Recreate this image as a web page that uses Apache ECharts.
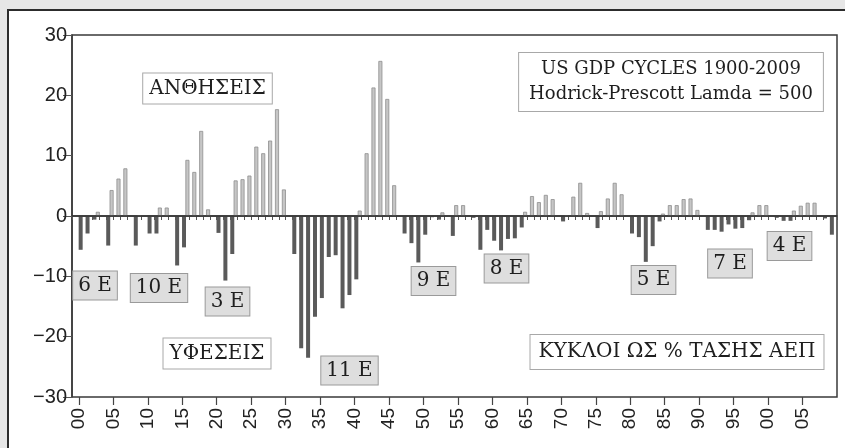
<!DOCTYPE html>
<html><head><meta charset="utf-8">
<script src="https://cdn.jsdelivr.net/npm/echarts@6/dist/echarts.min.js"></script>
<style>html,body{margin:0;padding:0;background:#e6e6e6}#c{width:845px;height:448px}</style>
</head><body><div id="c"></div>
<script>
// US GDP cycles, % deviation from HP trend (lambda = 500), 1900-2009
const gdp1900s = [-5.6, -2.9, -0.6, 0.7, -4.9, 4.3, 6.2, 7.9, -4.9, 0.1];
const gdp1910s = [-2.9, -2.9, 1.4, 1.4, -8.2, -5.2, 9.3, 7.3, 14.1, 1.1];
const gdp1920s = [-2.8, -10.7, -6.3, 5.9, 6.1, 6.7, 11.5, 10.4, 12.5, 17.7];
const gdp1930s = [4.4, -6.3, -21.9, -23.5, -16.7, -13.6, -6.8, -6.5, -15.3, -13.1];
const gdp1940s = [-10.5, 0.9, 10.4, 21.3, 25.7, 19.4, 5.1, -2.9, -4.5, -7.7];
const gdp1950s = [-3.1, -0.2, -0.6, 0.6, -3.3, 1.8, 1.8, -0.3, -5.6, -2.3];
const gdp1960s = [-4.1, -5.7, -3.8, -3.7, -1.9, 0.7, 3.3, 2.3, 3.5, 2.8];
const gdp1970s = [-0.9, 0.1, 3.2, 5.5, 0.5, -2.0, 0.8, 2.9, 5.5, 3.6];
const gdp1980s = [-2.9, -3.5, -7.6, -5.0, -0.9, 0.4, 1.8, 1.8, 2.8, 2.9];
const gdp1990s = [1.0, -2.3, -2.3, -2.6, -1.4, -2.1, -2.0, -0.7, 0.6, 1.8];
const gdp2000s = [1.8, -0.3, -0.8, -0.8, 0.9, 1.7, 2.2, 2.2, -0.4, -3.1];

const firstYear = 1900;
const axisStartYear = 1899;
const axisEndYear = 2010;
const xTickYears  = [1900,1905,1910,1915,1920,1925,1930,1935,1940,1945,1950,1955,1960,1965,1970,1975,1980,1985,1990,1995,2000,2005];
const xTickLabels = ['00','05','10','15','20','25','30','35','40','45','50','55','60','65','70','75','80','85','90','95','00','05'];
const yMin = -30, yMax = 30, yStep = 10;

const values = [].concat(gdp1900s, gdp1910s, gdp1920s, gdp1930s, gdp1940s,
  gdp1950s, gdp1960s, gdp1970s, gdp1980s, gdp1990s, gdp2000s);

const categories = [];
for (let y = axisStartYear; y <= axisEndYear; y++) categories.push(String(y));
const valueAt = c => { const i = Number(c) - firstYear; return (i >= 0 && i < values.length) ? values[i] : null; };
const posData = categories.map(c => { const v = valueAt(c); return (v !== null && v > 0) ? v : null; });
const negData = categories.map(c => { const v = valueAt(c); return (v !== null && v <= 0) ? v : null; });
const isMajor = (idx, val) => xTickYears.indexOf(Number(val)) >= 0;

const serif = 'DejaVu Serif';
function box(text, cx, cy, opts) {
  opts = opts || {};
  return {
    type: 'text', x: cx, y: cy, z: 50,
    style: {
      text: text, align: 'center', verticalAlign: 'middle',
      font: (opts.size || 20) + 'px "' + serif + '"',
      fill: '#1e1e1e',
      backgroundColor: opts.fill || '#ffffff',
      borderColor: opts.border || '#a8a8a8', borderWidth: 1,
      padding: opts.pad || [3, 6, 3, 6],
      lineHeight: opts.lh || 24
    }
  };
}
const grayFill = '#dedede', grayBorder = '#9a9a9a';

const chart = echarts.init(document.getElementById('c'), null, {renderer: 'canvas'});
chart.setOption({
  backgroundColor: 'transparent',
  animation: false,
  grid: { left: 72, right: 8, top: 35, bottom: 51, show: true, borderColor: '#3a3a3a', borderWidth: 1.5, backgroundColor: 'transparent', containLabel: false },
  xAxis: [{
    type: 'category', data: categories, boundaryGap: false,
    axisLine: { show: true, lineStyle: { color: '#3a3a3a', width: 1.5 } },
    axisTick: { show: true, interval: 0, length: 4, lineStyle: { color: '#555', width: 1 } },
    axisLabel: { show: false }, splitLine: { show: false }
  }, {
    type: 'category', data: categories, boundaryGap: false, position: 'bottom',
    axisLine: { show: false },
    axisTick: { show: true, interval: isMajor, length: 8, lineStyle: { color: '#444', width: 1.2 } },
    axisLabel: {
      show: true, interval: isMajor, rotate: 90, margin: 11,
      fontFamily: 'Liberation Sans', fontSize: 19, color: '#222',
      formatter: v => { const k = xTickYears.indexOf(Number(v)); return k >= 0 ? xTickLabels[k] : ''; }
    },
    splitLine: { show: false }
  }],
  yAxis: {
    type: 'value', min: yMin, max: yMax, interval: yStep,
    axisLine: { show: true, lineStyle: { color: '#3a3a3a', width: 1.5 } },
    axisTick: { show: true, length: 9, lineStyle: { color: '#555', width: 1 } },
    axisLabel: { margin: 5, fontFamily: 'Liberation Sans', fontSize: 20, color: '#222',
      formatter: v => v < 0 ? '\u2212' + (-v) : String(v) },
    splitLine: { show: false }
  },
  series: [{
    name: 'Ανθήσεις', type: 'bar', xAxisIndex: 0, data: posData,
    barWidth: 4, barGap: '-12%',
    itemStyle: { color: '#c6c6c6', borderColor: '#8e8e8e', borderWidth: 0.8 }
  }, {
    name: 'Υφέσεις', type: 'bar', xAxisIndex: 0, data: negData,
    barWidth: 4, barGap: '-12%',
    itemStyle: { color: '#5a5a5a' },
    markLine: { silent: true, symbol: 'none', label: { show: false },
      lineStyle: { color: '#333', width: 1.5, type: 'solid' }, data: [{ yAxis: 0 }] }
  }],
  graphic: [
    { type: 'rect', z: -10, shape: { x: 8, y: 10, width: 860, height: 460 },
      style: { fill: '#ffffff', stroke: '#2c2c2c', lineWidth: 2 } },
    box('ΑΝΘΗΣΕΙΣ', 207.5, 88.5),
    box('ΥΦΕΣΕΙΣ', 217, 353.5),
    box('US GDP CYCLES 1900-2009\nHodrick-Prescott Lamda = 500', 671, 82, { size: 18, lh: 25, pad: [4, 10, 4, 10] }),
    box('ΚΥΚΛΟΙ ΩΣ % ΤΑΣΗΣ ΑΕΠ', 677, 352, { pad: [5, 8, 5, 8] }),
    box('6 E', 95, 285.5, { fill: grayFill, border: grayBorder, pad: [2, 5, 2, 5] }),
    box('10 E', 159, 288, { fill: grayFill, border: grayBorder, pad: [2, 5, 2, 5] }),
    box('3 E', 227.5, 301.5, { fill: grayFill, border: grayBorder, pad: [2, 5, 2, 5] }),
    box('11 E', 349.5, 370.5, { fill: grayFill, border: grayBorder, pad: [2, 5, 2, 5] }),
    box('9 E', 433.5, 281, { fill: grayFill, border: grayBorder, pad: [2, 5, 2, 5] }),
    box('8 E', 506.5, 268.5, { fill: grayFill, border: grayBorder, pad: [2, 5, 2, 5] }),
    box('5 E', 653.5, 280, { fill: grayFill, border: grayBorder, pad: [2, 5, 2, 5] }),
    box('7 E', 730, 263.5, { fill: grayFill, border: grayBorder, pad: [2, 5, 2, 5] }),
    box('4 E', 789.5, 246, { fill: grayFill, border: grayBorder, pad: [2, 5, 2, 5] })
  ]
});
</script></body></html>
